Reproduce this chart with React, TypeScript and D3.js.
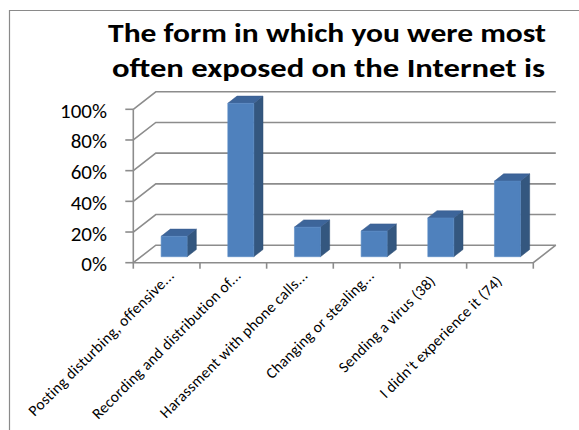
import React from "react";
import * as d3 from "d3";

const titleLines = ["The form in which you were most", "often exposed on the Internet is"];
const categories = [
  "Posting disturbing, offensive...",
  "Recording and distribution of...",
  "Harassment with phone calls...",
  "Changing or stealing...",
  "Sending a virus (38)",
  "I didn't experience it (74)",
];
const values = [0.133, 1.0, 0.193, 0.167, 0.253, 0.493];
const yTicks = [0, 0.2, 0.4, 0.6, 0.8, 1.0];

const W = 579;
const H = 430;
const FONT = "Carlito, Calibri, Lato, 'Open Sans', sans-serif";
const GRID = "#8c8c8c";

export default function App() {
  const x0 = 133.3;
  const x1 = 533.3;
  const yBase = 262.7;
  const yTop = 109.3;
  const wall = { dx: 22.5, dy: -17.5 };
  const barOff = { dx: 7.5, dy: -6 };
  const barDepth = { dx: 9.2, dy: -7.2 };

  const x = d3.scaleBand<string>().domain(categories).range([x0, x1]).paddingInner(0).paddingOuter(0);
  const y = d3.scaleLinear().domain([0, 1]).range([yBase, yTop]);
  const barW = x.bandwidth() * 0.39;
  const fmt = d3.format(".0%");

  const bars = categories.map((c, i) => {
    const cx = (x(c) as number) + x.bandwidth() / 2 + barOff.dx;
    const left = cx - barW / 2;
    const right = cx + barW / 2;
    const bottom = y(0) + barOff.dy;
    const top = y(values[i]) + barOff.dy;
    const { dx, dy } = barDepth;
    const front = `M${left},${bottom}L${right},${bottom}L${right},${top}L${left},${top}Z`;
    const side = `M${right},${bottom}L${right + dx},${bottom + dy}L${right + dx},${top + dy}L${right},${top}Z`;
    const topFace = `M${left},${top}L${right},${top}L${right + dx},${top + dy}L${left + dx},${top + dy}Z`;
    return (
      <g key={c}>
        <path d={side} fill="#34577f" stroke="#2e4e73" strokeWidth={0.5} />
        <path d={topFace} fill="#3d659a" stroke="#36598a" strokeWidth={0.5} />
        <path d={front} fill="#4f81bd" stroke="#5b8bc6" strokeWidth={0.6} />
      </g>
    );
  });

  return (
    <svg
      width={W}
      height={H}
      style={{ position: "absolute", left: 0, top: 0, background: "#fff" }}
      fontFamily={FONT}
    >
      <rect x={0} y={0} width={W} height={H} fill="#fff" />
      {/* frame */}
      <path d={`M9.5,${H}L9.5,10.5L${W},10.5`} fill="none" stroke="#8a8a8a" strokeWidth={1.2} />

      {/* title */}
      {titleLines.map((t, i) => (
        <text
          key={t}
          x={i === 0 ? 327 : 328.5}
          y={i === 0 ? 42 : 77}
          textAnchor="middle"
          fontSize={26}
          fontWeight="bold"
          fill="#000"
          textLength={i === 0 ? 438 : 433}
          lengthAdjust="spacingAndGlyphs"
        >
          {t}
        </text>
      ))}

      {/* walls: gridlines */}
      {yTicks.map((t) => (
        <path
          key={"g" + t}
          d={`M${x0},${y(t)}L${x0 + wall.dx},${y(t) + wall.dy}L${x1 + wall.dx},${y(t) + wall.dy}`}
          fill="none"
          stroke={GRID}
          strokeWidth={1.6}
        />
      ))}
      {/* floor */}
      <path
        d={`M${x0},${yBase}L${x1},${yBase}L${x1 + wall.dx},${yBase + wall.dy}`}
        fill="none"
        stroke={GRID}
        strokeWidth={1.6}
      />
      {/* value axis */}
      <line x1={x0} x2={x0} y1={yBase + 0.5} y2={yTop} stroke={GRID} strokeWidth={1.6} />
      {yTicks.map((t) => (
        <g key={"t" + t}>
          <line x1={x0 - 8} x2={x0} y1={y(t)} y2={y(t)} stroke={GRID} strokeWidth={1.6} />
          <text x={107} y={y(t) + 8.5} textAnchor="end" fontSize={21} fill="#000">
            {fmt(t)}
          </text>
        </g>
      ))}
      {/* category ticks */}
      {categories.map((c) => (
        <line
          key={"ct" + c}
          x1={x(c) as number}
          x2={x(c) as number}
          y1={yBase}
          y2={yBase + 6}
          stroke={GRID}
          strokeWidth={1.6}
        />
      ))}
      <line x1={x1} x2={x1} y1={yBase} y2={yBase + 6} stroke={GRID} strokeWidth={1.6} />

      {bars}

      {/* category labels */}
      {categories.map((c) => {
        const truncated = c.endsWith("...");
        const s = truncated ? 8 : 0;
        const ax = (x(c) as number) + x.bandwidth() / 2 + 3 + s * 0.707;
        const ay = 282 - s * 0.707;
        return (
          <text
            key={"l" + c}
            transform={`translate(${ax},${ay}) rotate(-45)`}
            textAnchor="end"
            fontSize={15.5}
            letterSpacing={0.3}
            fill="#000"
          >
            {c}
          </text>
        );
      })}
    </svg>
  );
}
